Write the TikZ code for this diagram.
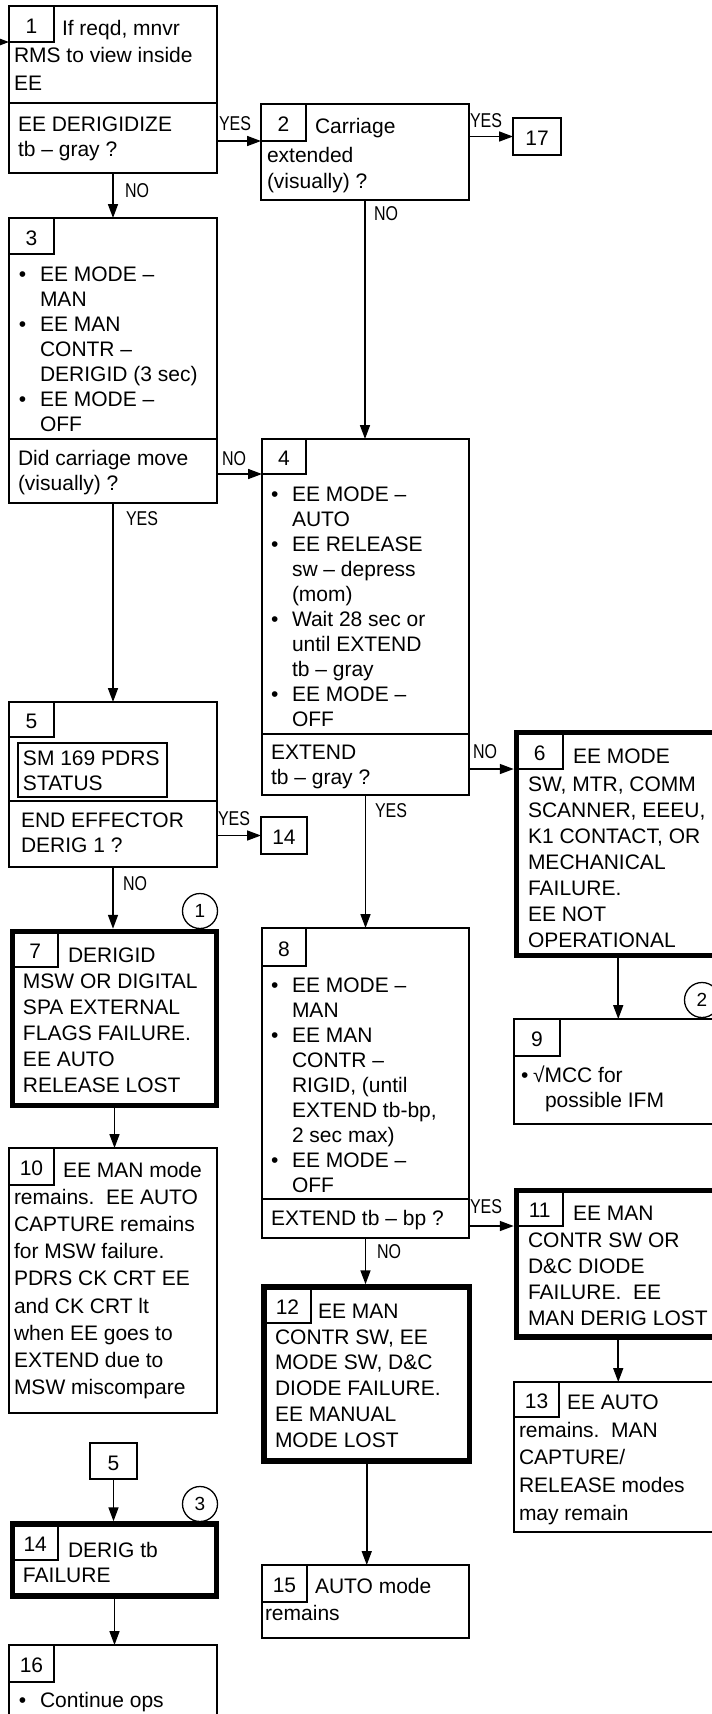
\documentclass[tikz,border=0pt]{standalone}
\usepackage{fontspec}
\setmainfont{Liberation Sans}
\usepackage{graphicx}
\usetikzlibrary{arrows.meta}
\newcommand\fs{\fontsize{21}{25}\selectfont}
\newcommand\lf{\fontsize{20}{24}\selectfont}
\newcommand\yn[1]{\scalebox{0.8}[1]{#1}}
\newcommand\txtlines[5]{\foreach \tx [count=\ix from 0] in {#5} {\node[txt] (#1-\ix) at (#2,{#3+\ix*#4}) {\tx};}}
\newcommand\bullets[5]{\foreach \ix in {#5} {\node[txt] (#1-b\ix) at (#2,{#3+\ix*#4}) {\textbullet};}}
\begin{document}
\begin{tikzpicture}[x=1pt,y=-1pt,
  box/.style={draw, line width=1.6pt, inner sep=0pt, outer sep=0pt, anchor=north west},
  tbox/.style={draw, line width=5.5pt, inner sep=0pt, outer sep=2.75pt, anchor=north west},
  numbox/.style={draw, line width=1.6pt, inner sep=0pt, outer sep=0pt, anchor=north west, font=\fs, text height=18.5pt, text depth=0pt},
  txt/.style={inner sep=0pt, outer sep=0pt, anchor=base west, font=\fs},
  lbl/.style={inner sep=0pt, outer sep=0pt, anchor=base west, font=\lf},
  ln/.style={line width=1.6pt},
  arr/.style={line width=1.6pt, -{Triangle[length=14pt,width=10pt]}},
  refc/.style={circle, draw, line width=1.3pt, minimum size=35pt, inner sep=0pt, font=\fontsize{19}{20}\selectfont}]
\useasboundingbox (0,0) rectangle (712,1714);
\clip (0,0) rectangle (712,1714);

% ---------- box 1
\node[box, minimum width=208, minimum height=167] (b1) at (9,6) {};
\node[numbox, minimum width=45, minimum height=36] (n1) at (9,6) {1};
\draw[ln] (9,103) -- (217,103);
\node[txt] (t1a) at (62,35) {If reqd, mnvr};
\txtlines{t1}{14}{62.5}{27.5}{{RMS to view inside},EE}
\txtlines{q1}{18}{131}{25}{{EE DERIGIDIZE},{tb – gray ?}}

% ---------- box 2
\node[box, minimum width=208, minimum height=96] (b2) at (261,104) {};
\node[numbox, minimum width=45, minimum height=37] (n2) at (261,104) {2};
\node[txt] (t2a) at (315,133) {Carriage};
\txtlines{t2}{267}{162}{26}{extended,{(visually) ?}}

% ---------- box 17
\node[numbox, minimum width=48, minimum height=37] (b17) at (513,118) {17};

% ---------- box 3
\node[box, minimum width=208, minimum height=285] (b3) at (9,218) {};
\node[numbox, minimum width=45, minimum height=36] (n3) at (9,218) {3};
\draw[ln] (9,439) -- (217,439);
\txtlines{t3}{40}{281}{25}{{EE MODE –},MAN,{EE MAN},{CONTR –},{DERIGID (3 sec)},{EE MODE –},OFF}
\bullets{t3}{19}{281}{25}{0,2,5}
\txtlines{q3}{18}{465}{25}{{Did carriage move},{(visually) ?}}

% ---------- box 4
\node[box, minimum width=207, minimum height=356] (b4) at (262,439) {};
\node[numbox, minimum width=44, minimum height=35] (n4) at (262,439) {4};
\draw[ln] (262,734) -- (469,734);
\txtlines{t4}{292}{501}{25}{{EE MODE –},AUTO,{EE RELEASE},{sw – depress},(mom),{Wait 28 sec or},{until EXTEND},{tb – gray},{EE MODE –},OFF}
\bullets{t4}{271}{501}{25}{0,2,5,8}
\txtlines{q4}{271}{759}{25}{EXTEND,{tb – gray ?}}

% ---------- box 5
\node[box, minimum width=208, minimum height=165] (b5) at (9,702) {};
\node[numbox, minimum width=45, minimum height=35] (n5) at (9,702) {5};
\node[box, minimum width=149, minimum height=54] (i5) at (18,743) {};
\txtlines{t5}{23}{765}{25}{{SM 169 PDRS},STATUS}
\draw[ln] (9,801) -- (217,801);
\txtlines{q5}{21}{827}{25}{{END EFFECTOR},{DERIG 1 ?}}

% ---------- small box 14
\node[numbox, minimum width=46, minimum height=37] (s14) at (261,817) {14};

% ---------- box 6 (thick)
\node[tbox, minimum width=203.5, minimum height=223] (b6) at (513.75,729.75) {};
\node[numbox, minimum width=46.5, minimum height=36.5] (n6) at (516.5,732.5) {6};
\node[txt] (t6a) at (573,763) {EE MODE};
\txtlines{t6}{528}{791}{26}{{SW, MTR, COMM},{SCANNER, EEEU,},{K1 CONTACT, OR},MECHANICAL,FAILURE.,{EE NOT},OPERATIONAL}

% ---------- box 7 (thick)
\node[tbox, minimum width=204, minimum height=174] (b7) at (9.75,928.75) {};
\node[numbox, minimum width=45.5, minimum height=35.5] (n7) at (12.5,931.5) {7};
\node[txt] (t7a) at (68,962) {DERIGID};
\txtlines{t7}{23}{988}{26}{{MSW OR DIGITAL},{SPA EXTERNAL},{FLAGS FAILURE.},{EE AUTO},{RELEASE LOST}}
\node[refc] (c1) at (200,911) {1};

% ---------- box 8
\node[box, minimum width=207, minimum height=310] (b8) at (262,928) {};
\node[numbox, minimum width=44, minimum height=38] (n8) at (262,928) {8};
\txtlines{t8}{292}{992}{25}{{EE MODE –},MAN,{EE MAN},{CONTR –},{RIGID, (until},{EXTEND tb-bp,},{2 sec max)},{EE MODE –},OFF}
\bullets{t8}{271}{992}{25}{0,2,7}
\draw[ln] (262,1199) -- (469,1199);
\node[txt] (q8) at (271,1225) {EXTEND tb – bp ?};

% ---------- box 9
\node[box, minimum width=206, minimum height=105] (b9) at (514,1019) {};
\node[numbox, minimum width=46, minimum height=37] (n9) at (514,1019) {9};
\node[txt] (t9b) at (521,1082) {\textbullet};
\node[txt] (t9a) at (533,1082) {√MCC for};
\node[txt] (t9c) at (545,1107) {possible IFM};
\node[refc] (c2) at (702,1000) {2};

% ---------- box 10
\node[box, minimum width=208, minimum height=265] (b10) at (9,1148) {};
\node[numbox, minimum width=45, minimum height=37] (n10) at (9,1148) {10};
\node[txt] (t10a) at (63,1177) {EE MAN mode};
\txtlines{t10}{14}{1204}{27.25}{{remains.~~EE AUTO},{CAPTURE remains},{for MSW failure.},{PDRS CK CRT EE},{and CK CRT lt},{when EE goes to},{EXTEND due to},{MSW miscompare}}

% ---------- box 11 (thick)
\node[tbox, minimum width=203.5, minimum height=146.5] (b11) at (513.75,1187.75) {};
\node[numbox, minimum width=46.5, minimum height=35.5] (n11) at (516.5,1190.5) {11};
\node[txt] (t11a) at (573,1220) {EE MAN};
\txtlines{t11}{528}{1247}{26}{{CONTR SW OR},{D\&C DIODE},{FAILURE.~~EE},{MAN DERIG LOST}}

% ---------- box 12 (thick)
\node[tbox, minimum width=205.5, minimum height=174] (b12) at (261.25,1284.25) {};
\node[numbox, minimum width=47, minimum height=36] (n12) at (264,1287) {12};
\node[txt] (t12a) at (318,1318) {EE MAN};
\txtlines{t12}{275}{1344}{25.8}{{CONTR SW, EE},{MODE SW, D\&C},{DIODE FAILURE.},{EE MANUAL},{MODE LOST}}

% ---------- box 13
\node[box, minimum width=206, minimum height=150] (b13) at (514,1382) {};
\node[numbox, minimum width=45, minimum height=35] (n13) at (514,1382) {13};
\node[txt] (t13a) at (567,1409) {EE AUTO};
\txtlines{t13}{519}{1437}{27.75}{{remains.~~MAN},CAPTURE/,{RELEASE modes},{may remain}}

% ---------- small box 5
\node[numbox, minimum width=47, minimum height=36] (s5) at (90,1443) {5};
\node[refc] (c3) at (200,1504) {3};

% ---------- box 14 (thick)
\node[tbox, minimum width=204, minimum height=72] (b14) at (9.75,1521.25) {};
\node[numbox, minimum width=45.5, minimum height=36] (n14) at (12.5,1524) {14};
\node[txt] (t14a) at (68,1557) {DERIG tb};
\node[txt] (t14b) at (23,1582) {FAILURE};

% ---------- box 15
\node[box, minimum width=207, minimum height=73] (b15) at (262,1565) {};
\node[numbox, minimum width=45, minimum height=37] (n15) at (262,1565) {15};
\node[txt] (t15a) at (315,1593) {AUTO mode};
\node[txt] (t15b) at (265,1620) {remains};

% ---------- box 16
\node[box, minimum width=208, minimum height=115] (b16) at (9,1645) {};
\node[numbox, minimum width=45, minimum height=37] (n16) at (9,1645) {16};
\node[txt] (t16b) at (19,1707) {\textbullet};
\node[txt] (t16a) at (40,1707) {Continue ops};

% ---------- connectors
\coordinate (in1) at (0,42);
\draw[arr] (in1) -- (in1 -| b1.west);
\draw[arr] (b1.east |- n2.south west) -- (n2.south west);
\draw[arr] (b2.east |- b17.west) -- (b17.west);
\draw[arr] (b1.south) -- (b3.north);
\draw[arr] (b2.south) -- (b2.south |- b4.north);
\draw[arr] (b3.east |- n4.south west) -- (n4.south west);
\draw[arr] (b3.south) -- (b5.north);
\draw[arr] (b4.east |- n6.south west) -- (b6.west |- n6.south west);
\draw[arr] (b4.south) -- (b4.south |- b8.north);
\draw[arr] (b5.east |- s14.west) -- (s14.west);
\draw[arr] (b5.south) -- (b5.south |- b7.north);
\draw[arr] (b6.south) -- (b6.south |- b9.north);
\draw[arr] (b7.south) -- (b7.south |- b10.north);
\draw[arr] (b8.east |- n11.south west) -- (b11.west |- n11.south west);
\draw[arr] (b8.south) -- (b8.south |- b12.north);
\draw[arr] (b11.south) -- (b11.south |- b13.north);
\draw[arr] (b12.south) -- (b12.south |- b15.north);
\draw[arr] (s5.south) -- (s5.south |- b14.north);
\draw[arr] (b14.south) -- (b14.south |- b16.north);

% ---------- branch labels
\node[lbl] (y12) at (219,130) {\yn{YES}};
\node[lbl] (y217) at (470,127) {\yn{YES}};
\node[lbl] (n13l) at (125,197) {\yn{NO}};
\node[lbl] (n24) at (374,220) {\yn{NO}};
\node[lbl] (n34) at (222,465) {\yn{NO}};
\node[lbl] (y35) at (126,525) {\yn{YES}};
\node[lbl] (n46) at (473,758) {\yn{NO}};
\node[lbl] (y48) at (375,817) {\yn{YES}};
\node[lbl] (y514) at (218,825) {\yn{YES}};
\node[lbl] (n57) at (123,890) {\yn{NO}};
\node[lbl] (y811) at (470,1213) {\yn{YES}};
\node[lbl] (n812) at (377,1258) {\yn{NO}};
\end{tikzpicture}
\end{document}
